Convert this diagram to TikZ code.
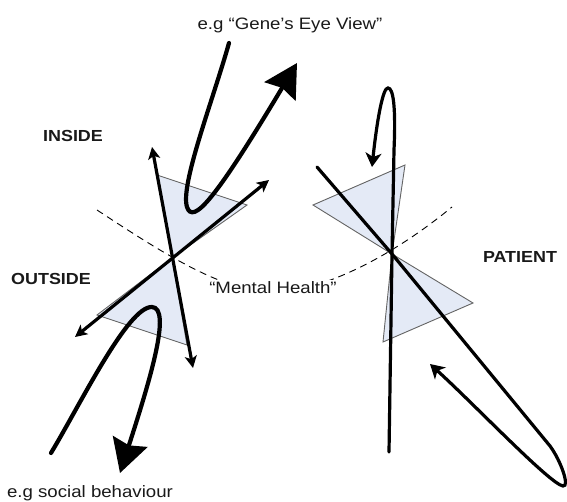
\documentclass[tikz,border=0pt]{standalone}
\usepackage{fontspec}
\setmainfont{Liberation Sans}
\usetikzlibrary{arrows.meta}
\definecolor{tri}{RGB}{228,234,246}
\definecolor{triedge}{RGB}{100,100,100}
\definecolor{txt}{RGB}{25,25,25}
\tikzset{
  wedge/.style={fill=tri,draw=triedge,line width=0.9pt,line join=miter},
  axisline/.style={line width=3.2pt,line cap=round},
  bigcurve/.style={line width=4.2pt,line cap=round},
  loopline/.style={line width=3.2pt,line cap=round},
  lbl/.style={text=txt,font=\fontsize{16.5}{18}\selectfont,xscale=1.13,inner sep=0pt},
  bold lbl/.style={text=txt,font=\fontsize{16}{18}\selectfont\bfseries,xscale=1.12,inner sep=0pt},
  smalltip/.tip={Stealth[length=12pt,width=12pt,inset=3pt]},
  midtip/.tip={Stealth[length=14pt,width=16pt,inset=4pt]},
  bigtip/.tip={Stealth[length=33pt,width=36pt,inset=4pt]},
}
\begin{document}
\begin{tikzpicture}[x=1pt,y=-1pt]
\useasboundingbox (0,0) rectangle (567,502);
% key points
\coordinate (L) at (172,258);
\coordinate (R) at (392,254);
% dashed arc
\draw[dashed,line width=0.9pt,dash pattern=on 7pt off 5pt] (97,210) .. controls (170,258) and (225,292) .. (273,292)
  .. controls (321,292) and (390,258) .. (452,207);
\node[lbl,fill=white,anchor=base,inner xsep=1pt,inner ysep=2pt] (mh) at (273,294) {“Mental Health”};
% left wedges
\draw[wedge] (L) -- (157,175) -- (247,205) -- cycle;
\draw[wedge] (L) -- (97,315) -- (187,345) -- cycle;
% right wedges
\draw[wedge] (R) -- (313,205) -- (405,165) -- cycle;
\draw[wedge] (R) -- (473,303) -- (383,342) -- cycle;
% left axes
\coordinate (l1a) at (193,368);
\coordinate (l1b) at (152,147);
\coordinate (l2a) at (75,337);
\coordinate (l2b) at (269,180);
\draw[axisline,line cap=butt,{smalltip}-{smalltip}] (l1a) -- (l1b);
\draw[axisline,line cap=butt,{smalltip}-{smalltip}] (l2a) -- (l2b);
% big curves
\draw[bigcurve,-{bigtip}] (229,43) .. controls (213,100) and (180,185) .. (187,207)
  .. controls (193,225) and (215,200) .. (297,63);
\draw[bigcurve,-{bigtip}] (51,453) .. controls (80,405) and (128,306) .. (152,307)
  .. controls (172,308) and (150,380) .. (120,473);
% right loops
\draw[loopline,-{midtip}] (389,452) -- (R) -- (394,150) .. controls (396,105) and (393,88) .. (388,88)
  .. controls (383,87) and (377,120) .. (372,167);
\draw[loopline,-{midtip}] (317,167) -- (R) -- (550,446) .. controls (561,461) and (570,487) .. (563,486)
  .. controls (550,484) and (475,405) .. (430,364);
% labels
\node[lbl,anchor=base] (gene) at (290,30) {e.g “Gene’s Eye View”};
\node[lbl,anchor=base] (social) at (90,497) {e.g social behaviour};
\node[bold lbl,anchor=base] (inside) at (73,142) {INSIDE};
\node[bold lbl,anchor=base] (outside) at (51,285) {OUTSIDE};
\node[bold lbl,anchor=base] (patient) at (520,263) {PATIENT};
\end{tikzpicture}
\end{document}
